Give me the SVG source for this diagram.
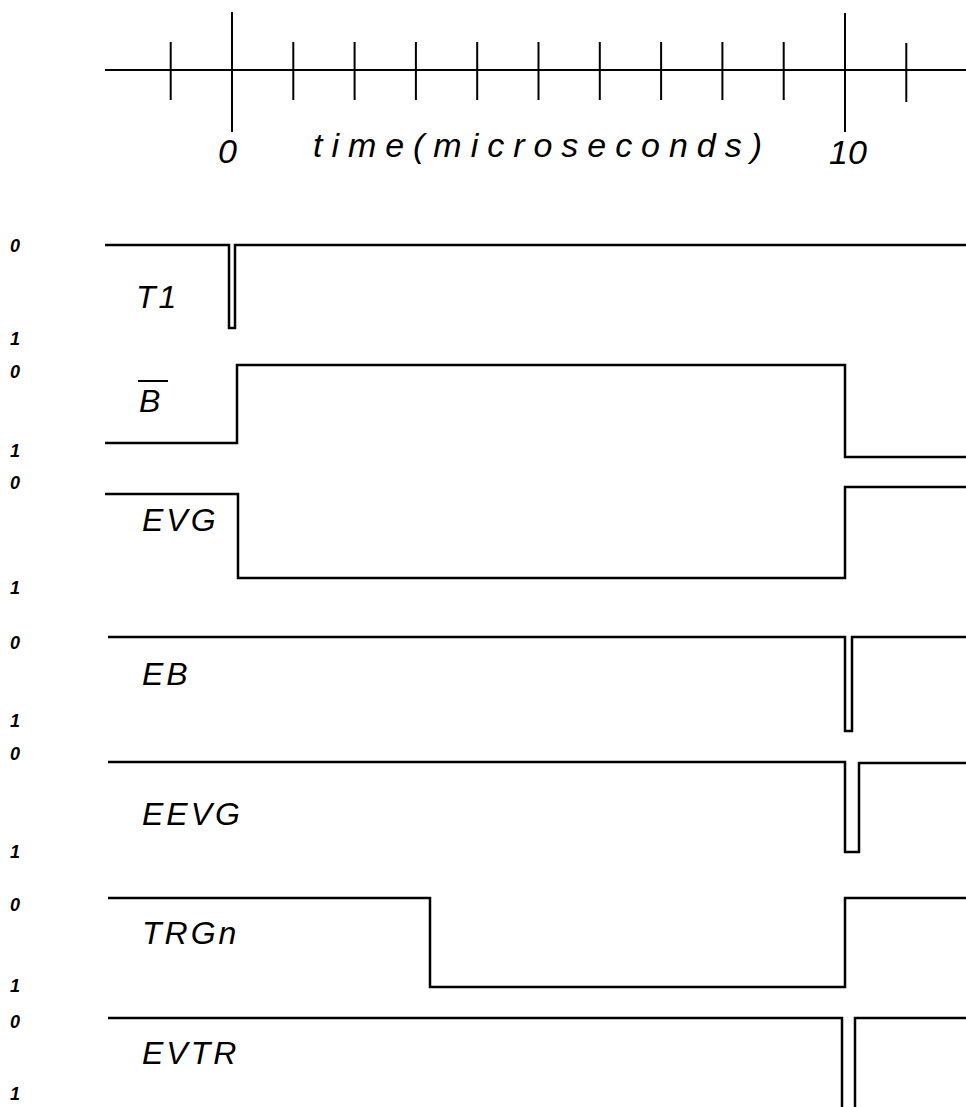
<svg xmlns="http://www.w3.org/2000/svg" width="966" height="1107" viewBox="0 0 966 1107">
<style>
.ax{stroke:#000;stroke-width:2;fill:none}
.sig{stroke:#000;stroke-width:2.5;fill:none;stroke-linejoin:miter}
.lbl{font-family:"Liberation Sans",Arial,sans-serif;font-style:italic;font-size:32px;letter-spacing:3px;fill:#000}
.lv{font-family:"Liberation Sans",Arial,sans-serif;font-style:italic;font-weight:bold;font-size:18px;fill:#000}
.axt{font-family:"Liberation Sans",Arial,sans-serif;font-style:italic;font-size:34px;fill:#000}
</style>
<rect width="966" height="1107" fill="#fff"/>
<g id="axis">
<path class="ax" d="M105,70 H966"/>
<path class="ax" d="M170.7,42 V100 M293.3,42 V100 M354.6,42 V100 M415.9,42 V100 M477.2,42 V100 M538.5,42 V100 M599.8,42 V100 M661.1,42 V100 M722.4,42 V100 M783.7,42 V100 M906.3,43 V102"/>
<path class="ax" d="M232,12 V132 M845,13 V132"/>
<text class="axt" x="218" y="163">0</text>
<text class="axt" x="313" y="157" textLength="449" lengthAdjust="spacing">time(microseconds)</text>
<text class="axt" x="829" y="164">10</text>
</g>
<g id="levels">
<text class="lv" x="10" y="252">0</text><text class="lv" x="10" y="345">1</text>
<text class="lv" x="10" y="378">0</text><text class="lv" x="10" y="457">1</text>
<text class="lv" x="10" y="489">0</text><text class="lv" x="10" y="594">1</text>
<text class="lv" x="10" y="649">0</text><text class="lv" x="10" y="727">1</text>
<text class="lv" x="10" y="760">0</text><text class="lv" x="10" y="858">1</text>
<text class="lv" x="10" y="911">0</text><text class="lv" x="10" y="992">1</text>
<text class="lv" x="10" y="1028">0</text><text class="lv" x="10" y="1100">1</text>
</g>
<g id="T1">
<path class="sig" d="M105,245 H229 V328 H235 V245 H966"/>
<text class="lbl" x="136" y="308" letter-spacing="-2">T1</text>
</g>
<g id="B">
<path class="sig" d="M105,443 H237 V365 H845 V457 H966"/>
<text class="lbl" x="139" y="412">B</text>
<path class="ax" d="M138,381 H168"/>
</g>
<g id="EVG">
<path class="sig" d="M105,494 H238 V578 H845 V487 H966"/>
<text class="lbl" x="142" y="531" letter-spacing="2">EVG</text>
</g>
<g id="EB">
<path class="sig" d="M108,637 H845 V731 H852 V637 H966"/>
<text class="lbl" x="142" y="685">EB</text>
</g>
<g id="EEVG">
<path class="sig" d="M108,762 H845 V852 H859 V763 H966"/>
<text class="lbl" x="142" y="825" letter-spacing="2.4">EEVG</text>
</g>
<g id="TRGn">
<path class="sig" d="M108,898 H430 V987 H845 V898 H966"/>
<text class="lbl" x="142" y="944" letter-spacing="4">TRGn</text>
</g>
<g id="EVTR">
<path class="sig" d="M108,1018 H842 V1107 M855,1107 V1018 H966"/>
<text class="lbl" x="142" y="1064" letter-spacing="3.6">EVTR</text>
</g>
</svg>
